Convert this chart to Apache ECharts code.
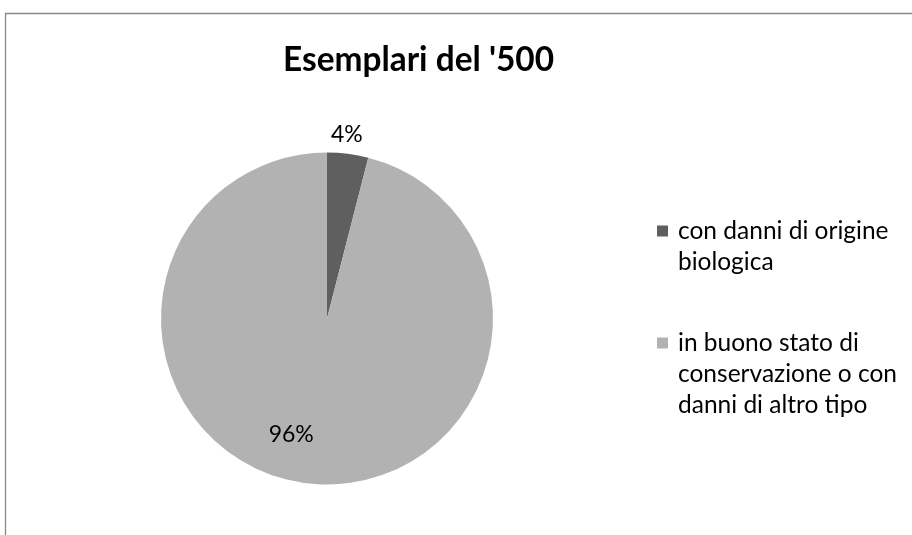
<!DOCTYPE html>
<html>
<head>
<meta charset="utf-8">
<script src="https://cdn.jsdelivr.net/npm/echarts@6/dist/echarts.min.js"></script>
<style>html,body{margin:0;padding:0;background:#fff}#c{width:912px;height:535px}</style>
</head>
<body>
<div id="c"></div>
<script>
const titleText = "Esemplari del '500";
const categories = ["con danni di origine biologica", "in buono stato di conservazione o con danni di altro tipo"];
const legendLines = [["con danni di origine", "biologica"], ["in buono stato di", "conservazione o con", "danni di altro tipo"]];
const values = [4, 96];
const colors = ["#5f5f5f", "#b2b2b2"];

const FONT = 'Lato, "Open Sans", sans-serif';
const LH = 31;
const legendTops = [231, 343];

const chart = echarts.init(document.getElementById('c'));
function makeLegend(i) {
  const lines = legendLines[i];
  const pad = lines.length - 1;
  return {
    orient: 'vertical',
    left: 657,
    top: legendTops[i] - (lines.length * 2 - 1) * LH / 2,
    padding: 0,
    itemWidth: 11, itemHeight: 11,
    icon: 'rect',
    data: [categories[i]],
    formatter: function () { return '\n'.repeat(pad) + lines.join('\n'); },
    textStyle: { fontFamily: FONT, fontSize: 24.5, color: '#000', lineHeight: LH, padding: [0, 0, 0, 5] }
  };
}
chart.setOption({
  animation: false,
  backgroundColor: '#fff',
  title: {
    text: titleText,
    left: 283, top: 44,
    padding: 0,
    textStyle: { fontFamily: FONT, fontWeight: 'bold', fontSize: 33.4, color: '#000' }
  },
  graphic: [{
    type: 'rect', silent: true,
    shape: { x: 5.5, y: 13.5, width: 1000, height: 1000 },
    style: { fill: 'none', stroke: '#878787', lineWidth: 1.3 }
  }],
  legend: [makeLegend(0), makeLegend(1)],
  series: [{
    type: 'pie',
    center: [327, 318.5],
    radius: [0, 166],
    startAngle: 90,
    clockwise: true,
    silent: true,
    data: categories.map((c, i) => ({ name: c, value: values[i], itemStyle: { color: colors[i] } })),
    label: {
      position: 'inside',
      formatter: '{d}%',
      fontFamily: FONT, fontSize: 23, color: '#000'
    },
    labelLine: { show: false },
    labelLayout: function (p) {
      return p.dataIndex === 0 ? { dx: 9, dy: -99 } : { dx: -25, dy: 31 };
    }
  }]
});
</script>
</body>
</html>
